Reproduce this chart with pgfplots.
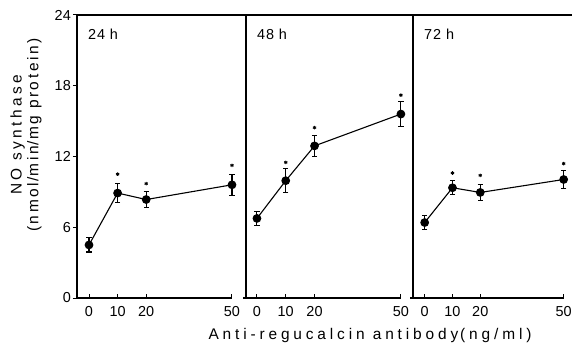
\documentclass[border=0pt]{standalone}
\usepackage{pgfplots}
\pgfplotsset{compat=1.18}
\usepackage{fontspec}
\setmainfont{Liberation Sans}
\newfontfamily\trackX[LetterSpace=25]{Liberation Sans}
\newfontfamily\trackY[LetterSpace=22]{Liberation Sans}
\newfontfamily\trackYb[LetterSpace=17]{Liberation Sans}
\newfontfamily\trackP[LetterSpace=6]{Liberation Sans}
\newcommand\fs{\fontsize{14.5}{17}\selectfont}
\newcommand\fl{\fontsize{15.5}{17}\selectfont}
\begin{document}
\begin{tikzpicture}[font=\fs]
\path[use as bounding box] (-77bp,-51bp) rectangle (495bp,298bp);
\pgfplotsset{
  panel/.style={
    scale only axis, height=283bp, ymin=0, ymax=24,
    axis x line*=bottom, axis y line*=left,
    x axis line style={draw=none},
    y axis line style={-, line width=1.1bp},
    xtick={0,10,20,50},
    xtick align=inside,
    ytick align=outside,
    major tick length=4bp,
    tick style={line width=1bp, black},
    xticklabel style={anchor=north, inner sep=0pt, yshift=-8bp},
    yticklabel style={inner sep=2bp},
    /pgf/number format/assume math mode=true,
    clip=false,
  },
  dat/.style={black, line width=1.1bp, mark=*, mark size=3.8bp,
    error bars/.cd, y dir=both, y explicit,
    error bar style={line width=1.1bp},
    error mark options={rotate=90, mark size=2.6bp, line width=1.1bp}},
  ast/.style={black, only marks, mark=asterisk, mark size=1.8bp, mark options={line width=0.9bp}},
}
% ---------- 24 h ----------
\begin{axis}[panel, at={(0,0)}, anchor=south west, width=169bp,
  xmin=-4.2, xmax=54.9, ytick={0,6,12,18,24}]
\addplot[dat] coordinates {(0,4.5) +- (0,0.6) (10,8.9) +- (0,0.8) (20,8.35) +- (0,0.7) (50,9.6) +- (0,0.9)};
\addplot[ast] coordinates {(10,10.5) (20,9.7) (50,11.25)};
\draw[line width=1.1bp] (rel axis cs:0,1) -- (rel axis cs:1,1);
\draw[line width=1.1bp] (axis cs:0,0) -- (axis cs:50,0);
\draw[line width=1.1bp] (rel axis cs:0,0) -- ++(5bp,0);
\node[anchor=west, inner sep=0pt, font={\trackP\fs}] at ([xshift=11bp,yshift=-19bp]rel axis cs:0,1) {24 h};
\end{axis}
% ---------- 48 h ----------
\begin{axis}[panel, at={(169bp,0)}, anchor=south west, width=167bp,
  xmin=-3.8, xmax=54.2, ytick=\empty]
\addplot[dat] coordinates {(0,6.75) +- (0,0.6) (10,9.95) +- (0,1.0) (20,12.9) +- (0,0.9) (50,15.6) +- (0,1.05)};
\addplot[ast] coordinates {(10,11.5) (20,14.45) (50,17.2)};
\draw[line width=1.1bp] (rel axis cs:0,1) -- (rel axis cs:1,1);
\draw[line width=1.1bp] (axis cs:0,0) -- (axis cs:50,0);
\draw[line width=1.1bp] ([xshift=-3bp]rel axis cs:0,0) -- ++(6bp,0);
\node[anchor=west, inner sep=0pt, font={\trackP\fs}] at ([xshift=11bp,yshift=-19bp]rel axis cs:0,1) {48 h};
\end{axis}
% ---------- 72 h ----------
\begin{axis}[panel, at={(336bp,0)}, anchor=south west, width=159bp,
  xmin=-4.2, xmax=53, ytick=\empty]
\addplot[dat] coordinates {(0,6.4) +- (0,0.6) (10,9.35) +- (0,0.6) (20,8.95) +- (0,0.7) (50,10.05) +- (0,0.8)};
\addplot[ast] coordinates {(10,10.6) (20,10.4) (50,11.4)};
\draw[line width=1.1bp] (rel axis cs:0,1) -- (rel axis cs:1,1);
\draw[line width=1.1bp] (axis cs:0,0) -- (axis cs:50,0);
\draw[line width=1.1bp] ([xshift=-3bp]rel axis cs:0,0) -- ++(6bp,0);
\node[anchor=west, inner sep=0pt, font={\trackP\fs}] at ([xshift=11bp,yshift=-19bp]rel axis cs:0,1) {72 h};
\end{axis}
\node[rotate=90, align=center, font={\trackY\fl}] at (-51bp,163bp) {NO synthase\\{\trackYb\fl(nmol\hspace{1bp}/\hspace{1bp}min\hspace{1bp}/\hspace{1bp}mg protein)}};
\node[font={\trackX\fl}] at (293bp,-38bp) {Anti-regucalcin antibody\hspace{2bp}(ng/ml)};
\end{tikzpicture}
\end{document}
